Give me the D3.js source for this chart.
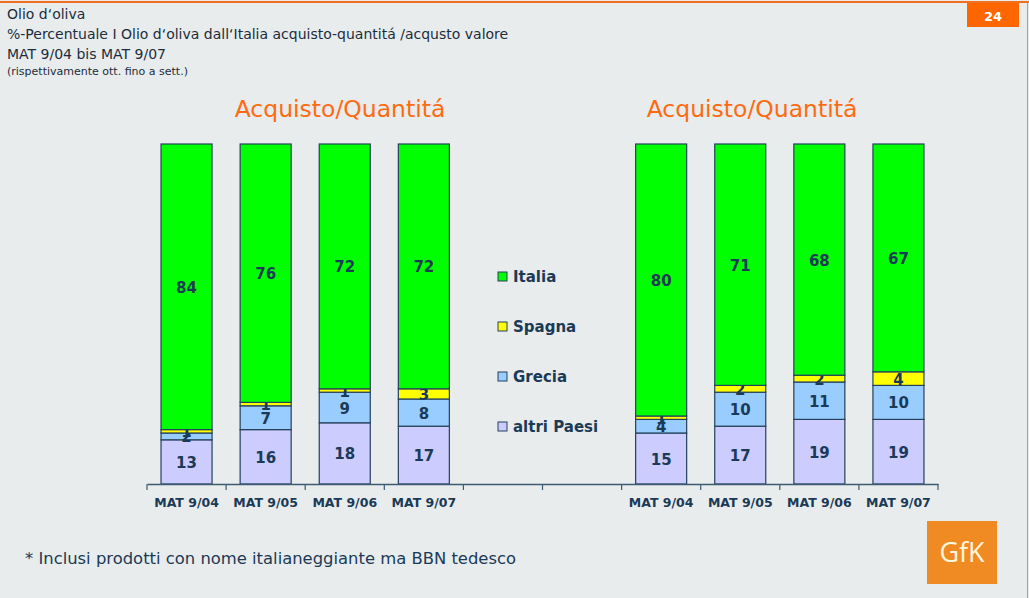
<!DOCTYPE html>
<html>
<head>
<meta charset="utf-8">
<script src="https://cdn.jsdelivr.net/npm/d3@7"></script>
<style>
  body { margin: 0; background: #e8ecec; }
  svg { display: block; font-family: "DejaVu Sans", Tahoma, sans-serif; }
</style>
</head>
<body>
<div id="chart"></div>
<script>
// slots along the shared axis: 4 bars, 2 empty (legend), 4 bars
var periods = ["MAT 9/04", "MAT 9/05", "MAT 9/06", "MAT 9/07"];
var series = ["Italia", "Spagna", "Grecia", "altri Paesi"];
var colors = ["#00ff00", "#ffff00", "#99ccff", "#ccccff"];

// Acquisto/Quantitá (left)
var leftItalia = [84, 76, 72, 72];
var leftSpagna = [1, 1, 1, 3];
var leftGrecia = [2, 7, 9, 8];
var leftAltri  = [13, 16, 18, 17];

// right block
var rightItalia = [80, 71, 68, 67];
var rightSpagna = [1, 2, 2, 4];
var rightGrecia = [4, 10, 11, 10];
var rightAltri  = [15, 17, 19, 19];

var titles = ["Acquisto/Quantitá", "Acquisto/Quantitá"];
var headerLines = [
  "Olio d‘oliva",
  "%-Percentuale I Olio d‘oliva dall‘Italia acquisto-quantitá /acqusto valore",
  "MAT 9/04 bis MAT 9/07"
];
var headerNote = "(rispettivamente ott. fino a sett.)";
var footnote = "* Inclusi prodotti con nome italianeggiante ma BBN tedesco";

var W = 1029, H = 598;
var navy = "#1b3a57";

var svg = d3.select("#chart").append("svg")
    .attr("width", W)
    .attr("height", H);

svg.append("rect").attr("width", W).attr("height", H).attr("fill", "#e8ecec");
// top orange rule and right border
svg.append("line").attr("x1", 0).attr("x2", W).attr("y1", 2).attr("y2", 2)
    .attr("stroke", "#f07020").attr("stroke-width", 2);
svg.append("line").attr("x1", 1027.5).attr("x2", 1027.5).attr("y1", 3).attr("y2", H)
    .attr("stroke", "#9aa4aa").attr("stroke-width", 1);

// page number
svg.append("rect").attr("x", 967).attr("y", 3).attr("width", 52).attr("height", 24).attr("fill", "#ff6600");
svg.append("text").attr("x", 993).attr("y", 21).attr("text-anchor", "middle")
    .attr("font-size", "13px").attr("font-weight", "bold").attr("fill", "#fff").text("24");

// header text
headerLines.forEach(function(t, i) {
  svg.append("text").attr("x", 7).attr("y", 19 + i * 20)
      .attr("font-size", "14px").attr("fill", "#1c2c3c").text(t);
});
svg.append("text").attr("x", 7).attr("y", 75)
    .attr("font-size", "11px").attr("fill", "#1c2c3c").text(headerNote);

// scales
var slots = d3.range(10);
var x = d3.scaleBand().domain(slots).range([147, 938]).paddingInner(0.355).paddingOuter(0.1775);
var y = d3.scaleLinear().domain([0, 100]).range([484, 144]);

var slotLabels = periods.concat(["", ""]).concat(periods);

function stackData(it, sp, gr, al) {
  return periods.map(function(p, i) {
    return { "altri Paesi": al[i], "Grecia": gr[i], "Spagna": sp[i], "Italia": it[i] };
  });
}
var rows = stackData(leftItalia, leftSpagna, leftGrecia, leftAltri)
  .concat(stackData(rightItalia, rightSpagna, rightGrecia, rightAltri));
var rowSlots = [0, 1, 2, 3, 6, 7, 8, 9];

var order = ["altri Paesi", "Grecia", "Spagna", "Italia"];
var stacked = d3.stack().keys(order)(rows);
var color = d3.scaleOrdinal().domain(series).range(colors);

var layer = svg.selectAll("g.layer")
    .data(stacked)
    .enter().append("g")
    .attr("class", "layer")
    .attr("fill", function(d) { return color(d.key); });

layer.selectAll("rect")
    .data(function(d) { return d; })
    .enter().append("rect")
    .attr("x", function(d, i) { return x(rowSlots[i]); })
    .attr("width", x.bandwidth())
    .attr("y", function(d) { return y(d[1]); })
    .attr("height", function(d) { return y(d[0]) - y(d[1]); })
    .attr("stroke", "#24405c")
    .attr("stroke-width", 1.2);

layer.selectAll("text")
    .data(function(d) { return d; })
    .enter().append("text")
    .attr("x", function(d, i) { return x(rowSlots[i]) + x.bandwidth() / 2; })
    .attr("y", function(d) { return (y(d[0]) + y(d[1])) / 2 + 6; })
    .attr("text-anchor", "middle")
    .attr("font-size", "15px")
    .attr("font-weight", "bold")
    .attr("fill", navy)
    .text(function(d) { return d[1] - d[0]; });

// axis
var xAxis = d3.axisBottom(x).tickSize(0).tickFormat(function(d) { return slotLabels[d]; });
var ax = svg.append("g")
    .attr("transform", "translate(0,484)")
    .call(xAxis);
ax.select(".domain").attr("stroke", "#3c5a72").attr("stroke-width", 1.5);
ax.selectAll(".tick text")
    .attr("dy", "1.6em")
    .attr("font-size", "12.5px")
    .attr("font-weight", "bold")
    .attr("font-family", "DejaVu Sans, sans-serif")
    .attr("fill", navy);
// boundary ticks between slots
var bounds = d3.range(11).map(function(i) { return 147 + i * (938 - 147) / 10; });
svg.selectAll("line.bnd")
    .data(bounds)
    .enter().append("line")
    .attr("class", "bnd")
    .attr("x1", function(d) { return d; }).attr("x2", function(d) { return d; })
    .attr("y1", 484).attr("y2", 490)
    .attr("stroke", "#3c5a72").attr("stroke-width", 1.2);

// titles
var titleX = [340, 752];
titles.forEach(function(t, i) {
  svg.append("text").attr("x", titleX[i]).attr("y", 117)
      .attr("text-anchor", "middle")
      .attr("font-size", "23.5px")
      .attr("fill", "#ff6a10")
      .text(t);
});

// legend
var legend = svg.selectAll("g.leg")
    .data(series)
    .enter().append("g")
    .attr("class", "leg")
    .attr("transform", function(d, i) { return "translate(498," + (272 + i * 50) + ")"; });
legend.append("rect")
    .attr("width", 9).attr("height", 9)
    .attr("fill", function(d) { return color(d); })
    .attr("stroke", "#24405c").attr("stroke-width", 1);
legend.append("text")
    .attr("x", 15).attr("y", 10)
    .attr("font-size", "15px").attr("font-weight", "bold")
    .attr("fill", navy)
    .text(function(d) { return d; });

// footnote
svg.append("text").attr("x", 25).attr("y", 564)
    .attr("font-size", "16.4px").attr("fill", navy).text(footnote);

// GfK logo
svg.append("rect").attr("x", 927).attr("y", 521).attr("width", 70).attr("height", 63).attr("fill", "#f08a22");
svg.append("text").attr("x", 962).attr("y", 562).attr("text-anchor", "middle")
    .attr("font-size", "27px").attr("fill", "#fff6e0")
    .attr("font-family", "Open Sans, sans-serif")
    .text("GfK");
</script>
</body>
</html>
